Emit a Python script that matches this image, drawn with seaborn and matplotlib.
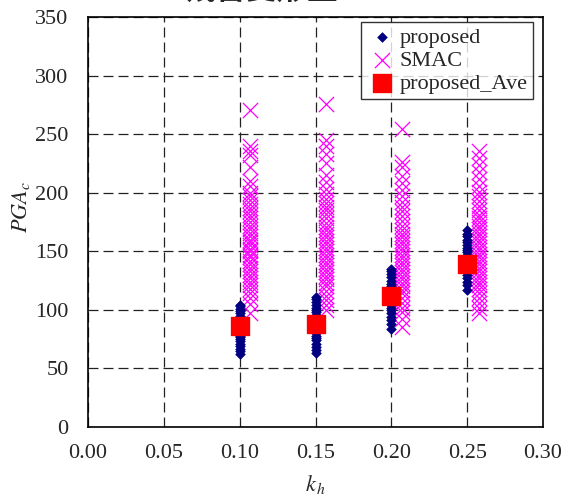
import pandas as pd
import matplotlib
matplotlib.use("Agg")
import matplotlib.pyplot as plt
import seaborn as sns

# --- data ---
kh_levels = [0.10, 0.15, 0.20, 0.25]
smac_x = [0.107, 0.157, 0.207, 0.258]

prop_010 = [62, 65, 67, 69, 71, 73, 75, 77, 78, 80, 82, 84, 85, 87, 88, 90, 91, 93, 95, 97, 99, 101, 103, 104]
prop_015 = [63, 66, 68, 71, 74, 76, 78, 80, 82, 84, 86, 88, 90, 92, 94, 96, 98, 100, 102, 104, 107, 109, 111]
prop_020 = [84, 88, 91, 94, 97, 100, 102, 104, 106, 108, 110, 112, 114, 116, 118, 120, 122, 125, 128, 131, 133, 135]
prop_025 = [117, 121, 124, 127, 130, 133, 135, 137, 139, 141, 143, 145, 147, 149, 151, 153, 155, 158, 160, 163, 165, 168]

smac_010 = [271, 240, 236, 232, 222, 210, 206, 200, 197, 194, 190, 187, 184, 181, 178, 175, 172, 169, 166, 163,
            160, 158, 155, 152, 150, 147, 145, 142, 139, 136, 133, 130, 127, 124, 121, 118, 114, 110, 105, 97]
smac_015 = [276, 245, 240, 233, 225, 215, 209, 203, 199, 195, 191, 188, 185, 182, 178, 174, 171, 168, 165, 162,
            159, 156, 153, 150, 147, 144, 141, 138, 135, 132, 129, 126, 123, 120, 116, 112, 108, 104, 100]
smac_020 = [254, 226, 222, 214, 208, 202, 197, 192, 188, 184, 180, 176, 172, 168, 165, 162, 159, 156, 153, 150,
            147, 144, 141, 138, 135, 132, 129, 126, 123, 120, 117, 114, 110, 106, 102, 98, 92, 85]
smac_025 = [236, 230, 224, 218, 212, 206, 201, 197, 193, 189, 185, 181, 178, 175, 172, 169, 166, 163, 160, 157,
            154, 151, 148, 145, 142, 139, 136, 133, 130, 127, 124, 121, 118, 114, 110, 106, 102, 97]

prop_ave = [86, 88, 112, 139]

prop_vals = [prop_010, prop_015, prop_020, prop_025]
smac_vals = [smac_010, smac_015, smac_020, smac_025]

prop_df = pd.DataFrame({"kh": [k for k, v in zip(kh_levels, prop_vals) for _ in v],
                        "pga": [p for v in prop_vals for p in v]})
smac_df = pd.DataFrame({"kh": [k for k, v in zip(smac_x, smac_vals) for _ in v],
                        "pga": [p for v in smac_vals for p in v]})
ave_df = pd.DataFrame({"kh": kh_levels, "pga": prop_ave})

# --- style ---
sns.set_style("white")
plt.rcParams["font.family"] = ["Liberation Serif", "DejaVu Serif"]
plt.rcParams["mathtext.fontset"] = "stix"

fig = plt.figure(figsize=(5.63, 4.96), dpi=100)
ax = fig.add_axes([88 / 563, 1 - 427 / 496, (543 - 88) / 563, (427 - 17) / 496])

sns.scatterplot(data=prop_df, x="kh", y="pga", marker="D", color="#000080", s=24,
                edgecolor="#000080", linewidth=0.5, label="proposed", ax=ax, zorder=3)
sns.scatterplot(data=smac_df, x="kh", y="pga", marker="x", color="#FF00FF", s=120,
                linewidth=0.9, label="SMAC", ax=ax, zorder=2)
sns.scatterplot(data=ave_df, x="kh", y="pga", marker="s", color="#FF0000", s=150,
                edgecolor="#FF0000", label="proposed_Ave", ax=ax, zorder=4)

ax.set_xlim(0, 0.30)
ax.set_ylim(0, 350)
ax.set_xticks([0.00, 0.05, 0.10, 0.15, 0.20, 0.25, 0.30])
ax.set_xticklabels(["0.00", "0.05", "0.10", "0.15", "0.20", "0.25", "0.30"])
ax.set_yticks(range(0, 351, 50))
ax.grid(True, color="#222222", linestyle=(0, (8, 4)), linewidth=0.9)
ax.set_axisbelow(True)
for sp in ax.spines.values():
    sp.set_color("black")
    sp.set_linewidth(1.2)
ax.tick_params(axis="both", direction="in", length=5, color="black", labelsize=16)
ax.tick_params(axis="x", pad=12)
ax.tick_params(axis="y", pad=14)

ax.set_xlabel(r"$k_{\,h}$", fontsize=16, va="center")
ax.set_ylabel(r"$PGA_c$", fontsize=16, va="center")
ax.xaxis.set_label_coords(0.5, -0.14)
ax.yaxis.set_label_coords(-0.148, 0.537)

leg = ax.legend(loc="upper right", bbox_to_anchor=(1.0 - 10 / 455, 1.0 - 5 / 410), fontsize=16,
                frameon=True, fancybox=False, borderpad=0.25, labelspacing=0.1,
                handletextpad=0.1, handlelength=1.4, borderaxespad=0)
leg.get_frame().set_edgecolor("black")
leg.get_frame().set_linewidth(1.0)

# title cut off by the top edge of the image
fig.text(185 / 563, 1.002, "残留変形量 - 30cm", fontsize=22, fontweight="bold",
         family=["Noto Sans CJK JP", "DejaVu Sans"], ha="left", va="baseline")

fig.savefig("out.png", dpi=100)
